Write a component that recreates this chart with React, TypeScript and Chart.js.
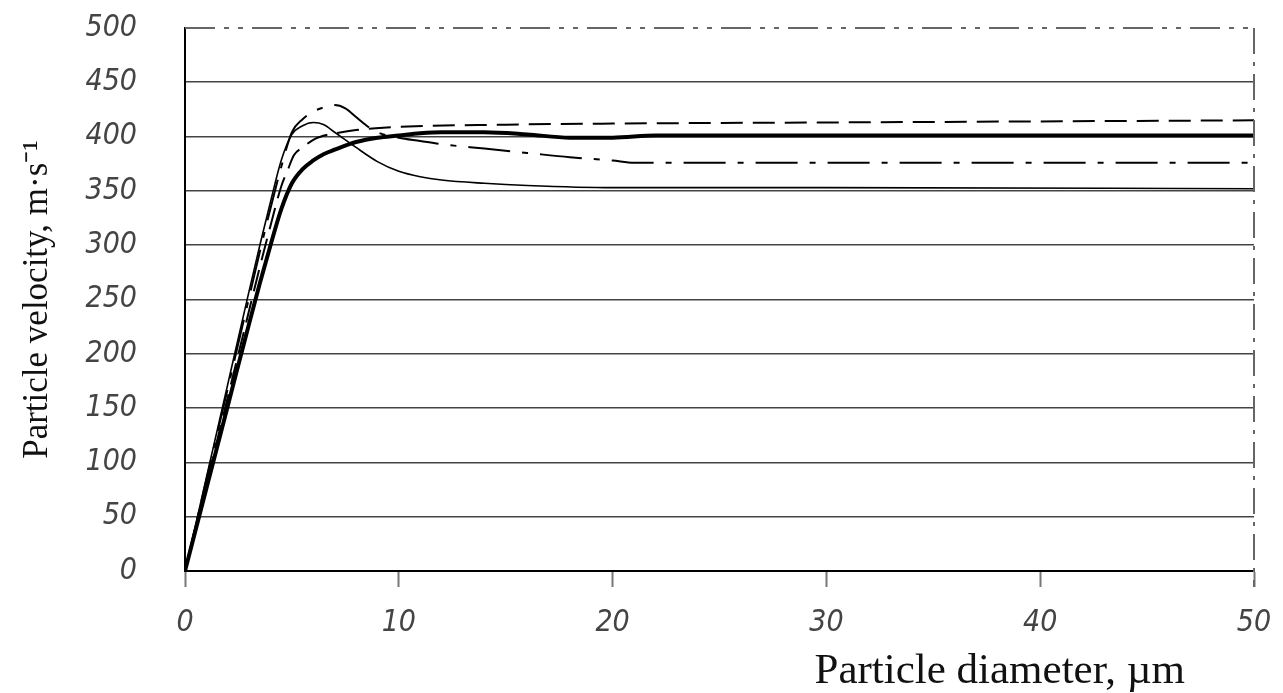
import { useEffect, useRef } from 'react';
import { Chart, registerables } from 'chart.js';

Chart.register(...registerables);

// ---- data ----
const xTickValues = [0, 10, 20, 30, 40, 50];
const yTickValues = [0, 50, 100, 150, 200, 250, 300, 350, 400, 450, 500];
const xAxisTitle = 'Particle diameter, µm';
const yAxisTitle = 'Particle velocity, m·s⁻¹';

// thin solid curve (peak ~413, settles ~352)
const thinX = [0, 1, 2, 3, 3.5, 4, 4.5, 5, 5.5, 6, 6.5, 7, 7.5, 8, 9, 10, 11, 12, 14, 16, 20, 30, 50];
const thinY = [0, 86, 172, 258, 300, 340, 378, 402, 410, 413, 411, 404, 397, 390, 377, 368, 363, 360, 357, 355, 353, 353, 352];

// dash-dot curve (peak ~429, settles ~376)
const dashDotX = [0, 1, 2, 3, 3.5, 4, 4.5, 5, 5.5, 6, 6.5, 7, 7.5, 8, 8.5, 9, 10, 11, 12, 14, 16, 18, 20, 21, 50];
const dashDotY = [0, 84, 168, 252, 294, 334, 372, 404, 416, 423, 427, 429, 426, 418, 410, 404, 399, 396, 393, 389, 385, 381, 378, 376, 376];

// dashed curve (settles ~409, rising slowly to ~415)
const dashedX = [0, 1, 2, 3, 3.5, 4, 4.5, 4.8, 5.1, 5.5, 6, 6.5, 7, 8, 10, 15, 20, 30, 40, 50];
const dashedY = [0, 80, 160, 240, 280, 318, 354, 369, 383, 390, 397, 401, 403, 406, 409, 411, 412, 413, 414, 415];

// thick solid curve (settles ~401)
const thickX = [0, 1, 2, 3, 3.5, 4, 4.5, 5, 5.5, 6, 6.5, 7, 8, 9, 10, 11, 12, 14, 16, 18, 20, 22, 50];
const thickY = [0, 76, 152, 228, 265, 300, 333, 357, 370, 378, 384, 388, 395, 399, 401, 403, 404, 404, 402, 399, 399, 401, 401];

const toPoints = (xs: number[], ys: number[]) => xs.map((x, i) => ({ x, y: ys[i] }));

const tickFont = {
  family: "'DejaVu Sans Condensed', 'DejaVu Sans', sans-serif",
  size: 30,
  style: 'italic' as const,
  weight: 'normal' as const,
};

const framePlugin = {
  id: 'frame',
  afterDraw(chart: any) {
    const { ctx, chartArea } = chart;
    const { left, right, top, bottom } = chartArea;
    ctx.save();
    // top border: dash-dot-dot
    ctx.strokeStyle = '#666';
    ctx.lineWidth = 2;
    ctx.setLineDash([30, 9, 5, 9, 5, 9]);
    ctx.beginPath();
    ctx.moveTo(left, top);
    ctx.lineTo(right, top);
    ctx.stroke();
    // right border: dash-dot
    ctx.setLineDash([26, 8, 4, 8]);
    ctx.beginPath();
    ctx.moveTo(right, top);
    ctx.lineTo(right, bottom + 16);
    ctx.stroke();
    ctx.setLineDash([]);
    // x axis title
    ctx.fillStyle = '#111';
    ctx.font = "43px 'Liberation Serif', serif";
    ctx.textAlign = 'right';
    ctx.textBaseline = 'alphabetic';
    ctx.fillText(xAxisTitle, right - 69, chart.height - 10);
    ctx.restore();
  },
};

export default function App() {
  const canvasRef = useRef<HTMLCanvasElement | null>(null);

  useEffect(() => {
    document.body.style.margin = '0';
    const canvas = canvasRef.current;
    if (!canvas) return;
    const chart = new Chart(canvas, {
      type: 'line',
      data: {
        datasets: [
          {
            label: 'thin',
            data: toPoints(thinX, thinY),
            borderColor: '#000',
            borderWidth: 1.6,
            pointRadius: 0,
            cubicInterpolationMode: 'monotone',
          },
          {
            label: 'dash-dot',
            data: toPoints(dashDotX, dashDotY),
            borderColor: '#000',
            borderWidth: 2,
            borderDash: [42, 12, 6, 12],
            pointRadius: 0,
            cubicInterpolationMode: 'monotone',
          },
          {
            label: 'dashed',
            data: toPoints(dashedX, dashedY),
            borderColor: '#000',
            borderWidth: 2,
            borderDash: [22, 10],
            pointRadius: 0,
            cubicInterpolationMode: 'monotone',
          },
          {
            label: 'thick',
            data: toPoints(thickX, thickY),
            borderColor: '#000',
            borderWidth: 4,
            pointRadius: 0,
            cubicInterpolationMode: 'monotone',
          },
        ],
      },
      options: {
        responsive: false,
        animation: false,
        devicePixelRatio: 1,
        layout: { padding: { top: 28, right: 29, left: 0, bottom: 0 } },
        plugins: {
          legend: { display: false },
          tooltip: { enabled: false },
        },
        scales: {
          x: {
            type: 'linear',
            min: 0,
            max: 50,
            afterBuildTicks: (scale: any) => {
              scale.ticks = xTickValues.map((v) => ({ value: v }));
            },
            afterFit: (scale: any) => {
              scale.height = 122;
              scale.paddingLeft = 0;
              scale.paddingRight = 0;
              scale.paddingTop = 0;
              scale.paddingBottom = 0;
            },
            grid: {
              display: true,
              drawOnChartArea: false,
              drawTicks: true,
              tickLength: 16,
              tickColor: '#777',
              tickWidth: 2,
            },
            border: { display: true, color: '#000', width: 2 },
            ticks: {
              padding: 18,
              color: '#444',
              font: tickFont,
              maxRotation: 0,
            },
            title: { display: false },
          },
          y: {
            type: 'linear',
            min: 0,
            max: 500,
            afterBuildTicks: (scale: any) => {
              scale.ticks = yTickValues.map((v) => ({ value: v }));
            },
            afterFit: (scale: any) => {
              scale.width = 185;
              scale.paddingLeft = 0;
              scale.paddingRight = 0;
              scale.paddingTop = 0;
              scale.paddingBottom = 0;
            },
            grid: {
              display: true,
              drawTicks: false,
              lineWidth: 1.6,
              color: (ctx: any) =>
                ctx.tick && (ctx.tick.value === 500 || ctx.tick.value === 0) ? 'rgba(0,0,0,0)' : '#444',
            },
            border: { display: true, color: '#000', width: 2 },
            ticks: {
              padding: 48,
              color: '#444',
              font: tickFont,
            },
            title: {
              display: true,
              text: yAxisTitle,
              color: '#111',
              font: { family: "'Liberation Serif', serif", size: 35 },
              padding: { top: 17, bottom: 0 },
            },
          },
        },
      },
      plugins: [framePlugin],
    });
    return () => chart.destroy();
  }, []);

  return (
    <div style={{ width: 1283, height: 693 }}>
      <canvas ref={canvasRef} width={1283} height={693} />
    </div>
  );
}
